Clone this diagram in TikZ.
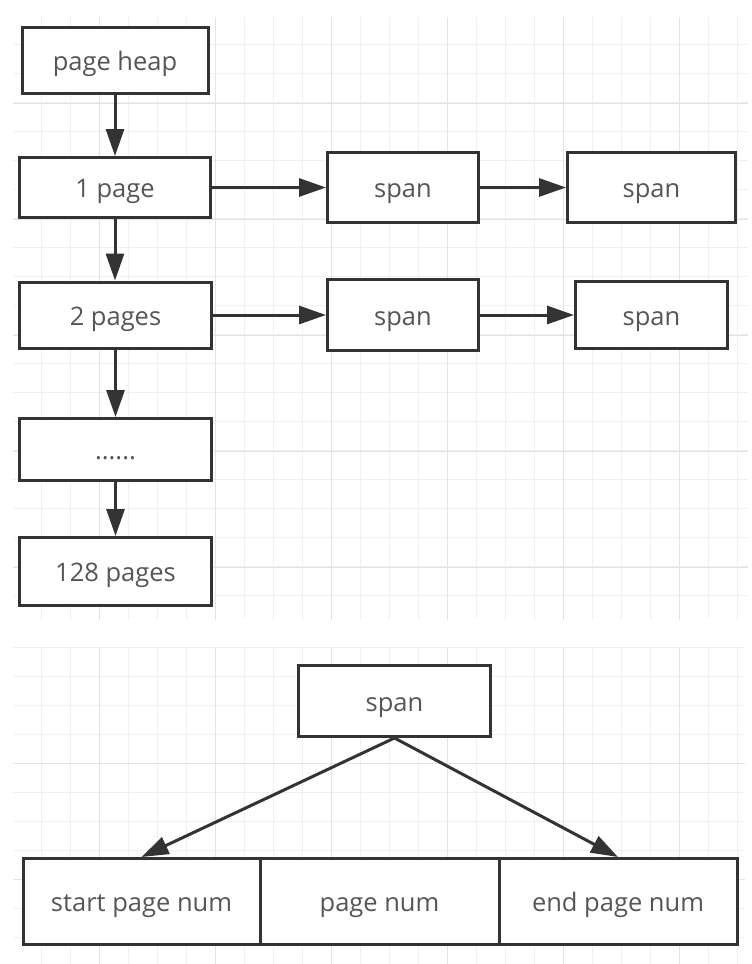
\documentclass[tikz,border=0pt]{standalone}
\usepackage{fontspec}
\setmainfont{Open Sans}
\usetikzlibrary{arrows.meta}
\definecolor{gridminor}{HTML}{F0F0F0}
\definecolor{gridmajor}{HTML}{E3E3E3}
\definecolor{edgec}{HTML}{333333}
\definecolor{txt}{HTML}{555555}
\begin{document}
\begin{tikzpicture}[x=1pt,y=-1pt,
  box/.style={draw=edgec, line width=3pt, fill=white, inner sep=0pt, text=txt,
              font=\fontsize{25.5}{30}\selectfont, anchor=center,
              text height=20pt, text depth=0pt},
  conn/.style={draw=edgec, line width=3pt, -{Triangle[length=27pt,width=18pt]}},
  gmin/.style={draw=gridminor, line width=1pt},
  gmaj/.style={draw=gridmajor, line width=1pt}]
\useasboundingbox[fill=white] (0,0) rectangle (752,964);
% top grid
\foreach \x in {41,70,...,737} \draw[gmin] (\x,17) -- (\x,620);
\foreach \y in {44,73,...,595} \draw[gmin] (13,\y) -- (748,\y);
\foreach \x in {99,215,...,679} \draw[gmaj] (\x,17) -- (\x,620);
\foreach \y in {103,219,...,567} \draw[gmaj] (13,\y) -- (748,\y);
% bottom grid
\foreach \x in {41,70,...,737} \draw[gmin] (\x,647) -- (\x,964);
\foreach \y in {647,676,...,937} \draw[gmin] (13,\y) -- (745,\y);
\foreach \x in {99,215,...,679} \draw[gmaj] (\x,647) -- (\x,964);
\foreach \y in {763,879} \draw[gmaj] (13,\y) -- (745,\y);
% nodes
\node[box, minimum width=186pt, minimum height=66pt] (heap) at (115,60) {page heap};
\node[box, minimum width=191pt, minimum height=60pt] (p1) at (115,187.5) {1 page};
\node[box, minimum width=192pt, minimum height=66pt] (p2) at (115.5,315) {2 pages};
\node[box, minimum width=192pt, minimum height=62pt] (dots) at (115.5,449.5) {......};
\node[box, minimum width=192pt, minimum height=68pt] (p128) at (115.5,571.5) {128 pages};
\node[box, minimum width=151pt, minimum height=70pt] (s1a) at (403,187.5) {span};
\node[box, minimum width=168pt, minimum height=70pt] (s1b) at (651.5,187.5) {span};
\node[box, minimum width=151pt, minimum height=71pt] (s2a) at (403,315) {span};
\node[box, minimum width=152pt, minimum height=67pt] (s2b) at (651.5,315) {span};
\node[box, minimum width=192pt, minimum height=71pt] (sb) at (394.5,701) {span};
\node[box, minimum width=237pt, minimum height=86pt] (c1) at (141.5,901.5) {start page num};
\node[box, minimum width=239pt, minimum height=86pt] (c2) at (379.5,901.5) {page num};
\node[box, minimum width=238pt, minimum height=86pt] (c3) at (618,901.5) {end page num};
% connectors
\draw[conn] (heap.south -| p1.north) -- (p1.north);
\draw[conn] (p1.south) -- (p2.north -| p1.south);
\draw[conn] (p2.south) -- (dots.north);
\draw[conn] (dots.south) -- (p128.north);
\draw[conn] (p1.east) -- (s1a.west);
\draw[conn] (s1a.east) -- (s1b.west);
\draw[conn] (p2.east) -- (s2a.west);
\draw[conn] (s2a.east) -- (s2b.west);
\draw[conn] (sb.south) -- (c1.north);
\draw[conn] (sb.south) -- (c3.north);
\end{tikzpicture}
\end{document}
